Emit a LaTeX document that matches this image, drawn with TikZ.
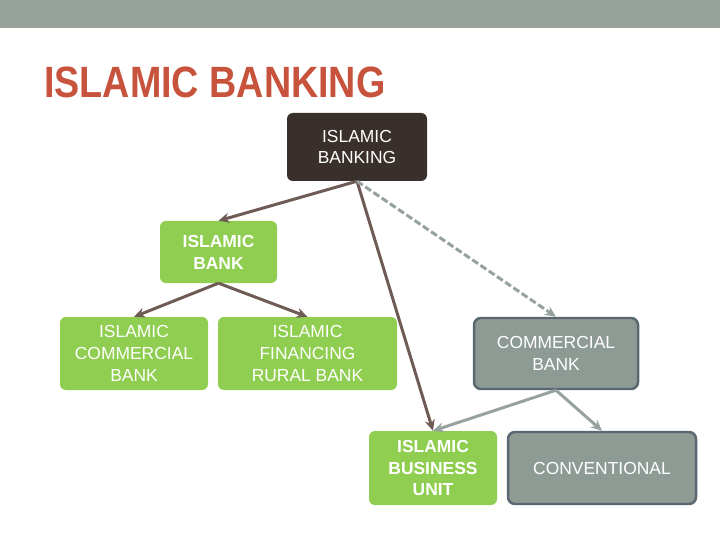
\documentclass[tikz,border=0pt]{standalone}
\usepackage{fontspec}
\setmainfont{Liberation Sans}
\usetikzlibrary{positioning, arrows.meta}
\definecolor{bargray}{RGB}{149, 161, 153}
\definecolor{titlered}{RGB}{200, 83, 60}
\definecolor{rootbrown}{RGB}{58, 48, 43}
\definecolor{leafgreen}{RGB}{143, 206, 80}
\definecolor{convgray}{RGB}{142, 155, 148}
\definecolor{convedge}{RGB}{90, 103, 112}
\definecolor{linkbrown}{RGB}{110, 92, 84}
\definecolor{linkgray}{RGB}{150, 162, 158}

\begin{document}
\begin{tikzpicture}[x=1bp, y=-1bp,
      bankbox/.style={fill=#1, text=white, align=center, rounded corners=6pt, font=\fontsize{17.5}{22}\selectfont, inner sep=0pt},
      convbox/.style={bankbox=convgray, draw=convedge, line width=2.5pt, rounded corners=7pt},
      linkarrow/.style={-{Stealth[length=11pt, width=10pt]}, line width=3pt, #1}
    ]
      \useasboundingbox (0,0) rectangle (720,540);
      \fill[bargray] (0,0) rectangle (720,28);
      \node[text=titlered, font=\fontsize{44}{44}\selectfont\bfseries, anchor=west, xscale=0.86, transform shape, inner sep=0pt] (title) at (44,82) {ISLAMIC BANKING};

      \node[bankbox=rootbrown, minimum width=140bp, minimum height=68bp] (root) at (357,147) {ISLAMIC\\BANKING};
      \node[bankbox=leafgreen, minimum width=117bp, minimum height=62bp, font=\fontsize{17.5}{22}\selectfont\bfseries] (ibank) at (218.5,252) {ISLAMIC\\BANK};
      \node[bankbox=leafgreen, minimum width=148bp, minimum height=73bp] (icb) at (134,353.5) {ISLAMIC\\COMMERCIAL\\BANK};
      \node[bankbox=leafgreen, minimum width=179bp, minimum height=73bp] (ifrb) at (307.5,353.5) {ISLAMIC\\FINANCING\\RURAL BANK};
      \node[convbox, minimum width=164bp, minimum height=71bp] (cbank) at (556,353.5) {COMMERCIAL\\BANK};
      \node[bankbox=leafgreen, minimum width=128bp, minimum height=74bp, font=\fontsize{17.5}{22}\selectfont\bfseries] (ibu) at (433,468) {ISLAMIC\\BUSINESS\\UNIT};
      \node[convbox, minimum width=188bp, minimum height=72bp] (conv) at (602,468) {CONVENTIONAL};

      \draw[linkarrow=linkbrown] (root.south) -- (ibank.north);
      \draw[linkarrow=linkbrown] (root.south) -- (ibu.north);
      \draw[linkarrow=linkgray, dash pattern=on 7pt off 3pt] (root.south) -- (cbank.north);
      \draw[linkarrow=linkbrown] (ibank.south) -- (icb.north);
      \draw[linkarrow=linkbrown] (ibank.south) -- (ifrb.north);
      \draw[linkarrow=linkgray] (cbank.south) -- (ibu.north);
      \draw[linkarrow=linkgray] (cbank.south) -- (conv.north);
    \end{tikzpicture}
\end{document}
